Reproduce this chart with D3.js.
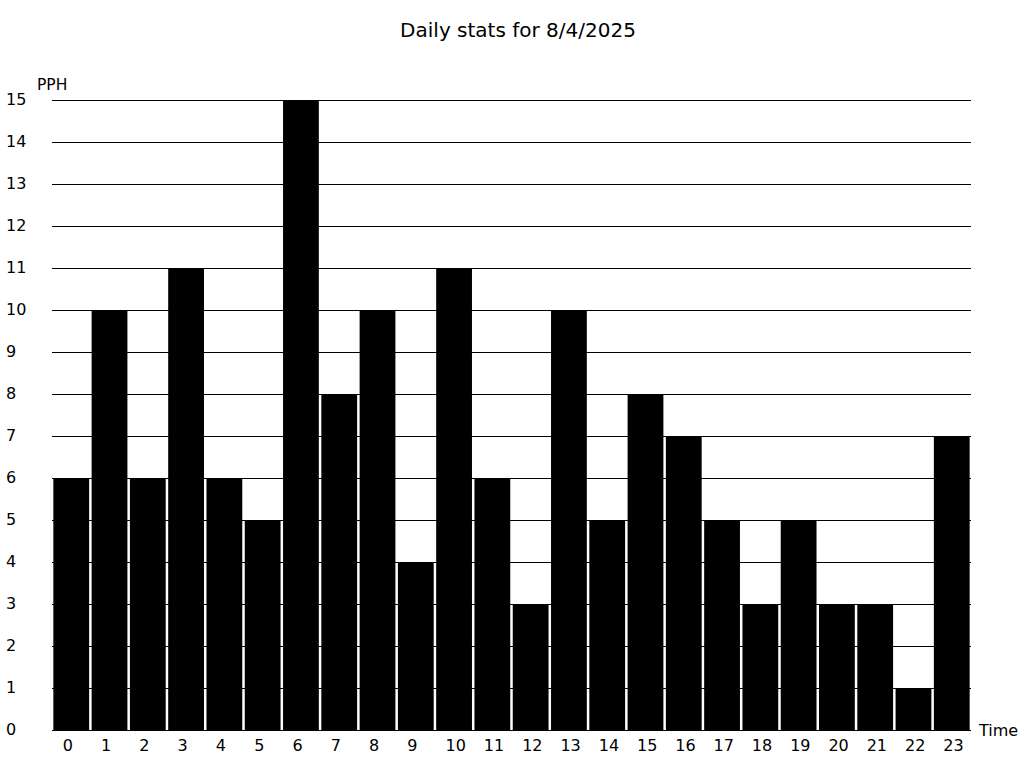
<!DOCTYPE html>
<html><head><meta charset="utf-8">
<script src="https://cdn.jsdelivr.net/npm/d3@7"></script>
<style>body{margin:0;background:#fff;} svg{display:block;} text{font-family:"DejaVu Sans",sans-serif;fill:#000;}</style>
</head><body>
<svg id="c" width="1024" height="768"></svg>
<script>
const hours = ["0","1","2","3","4","5","6","7","8","9","10","11","12","13","14","15","16","17","18","19","20","21","22","23"];
const pph = [6,10,6,11,6,5,15,8,10,4,11,6,3,10,5,8,7,5,3,5,3,3,1,7];
const yTicks = [0,1,2,3,4,5,6,7,8,9,10,11,12,13,14,15];
const title = "Daily stats for 8/4/2025";

const svg = d3.select("#c");
const x = d3.scaleBand().domain(hours).range([52, 971]).paddingInner(0.065).paddingOuter(0.035);
const y = d3.scaleLinear().domain([0, 15]).range([730, 100]);

svg.append("text").attr("x", 518).attr("y", 37).attr("text-anchor", "middle")
  .style("font-size", "20px").text(title);

// gridlines
svg.append("g").selectAll("line").data(yTicks).join("line")
  .attr("x1", 52).attr("x2", 971)
  .attr("y1", d => Math.round(y(d)) + 0.5).attr("y2", d => Math.round(y(d)) + 0.5)
  .attr("stroke", "#000").attr("stroke-width", 1);

// y labels
svg.append("g").selectAll("text").data(yTicks).join("text")
  .attr("x", 6).attr("y", d => y(d) + 4.5)
  .style("font-size", "16px").text(d => d);

// bars
svg.append("g").selectAll("rect").data(pph).join("rect")
  .attr("x", (d, i) => x(hours[i]))
  .attr("width", x.bandwidth())
  .attr("y", d => y(d) + 0.5)
  .attr("height", d => y(0) - y(d))
  .attr("fill", "#000");

// x labels
svg.append("g").selectAll("text").data(hours).join("text")
  .attr("x", d => x(d) + x.bandwidth() / 2 - 8.5).attr("y", 751)
  .style("font-size", "16px").text(d => d);

svg.append("text").attr("x", 37).attr("y", 90).style("font-size", "15.5px").text("PPH");
svg.append("text").attr("x", 979).attr("y", 736).style("font-size", "16px").text("Time");
</script>
</body></html>
